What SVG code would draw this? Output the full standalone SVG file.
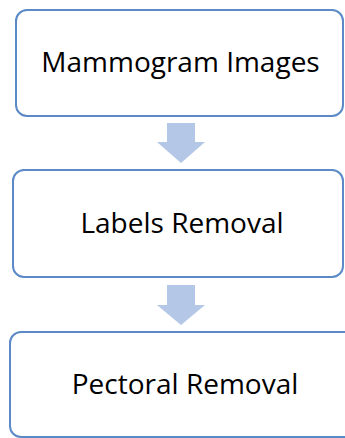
<svg xmlns="http://www.w3.org/2000/svg" width="345" height="438" viewBox="0 0 345 438">
  <style>
    .box { fill: #ffffff; stroke: #5b8ac6; stroke-width: 2; }
    .label { font-family: "Open Sans", "Liberation Sans", sans-serif; font-size: 28px; fill: #000000; text-anchor: middle; }
    .flow { fill: #b4c7e7; stroke: none; }
  </style>
  <rect width="345" height="438" fill="#ffffff"/>

  <g id="node-mammogram-images">
    <rect class="box" x="16" y="10" width="327" height="106" rx="11"/>
    <text class="label" x="180.5" y="72">Mammogram Images</text>
  </g>

  <g id="node-labels-removal">
    <rect class="box" x="13" y="170" width="330" height="107" rx="11"/>
    <text class="label" x="182" y="233">Labels Removal</text>
  </g>

  <g id="node-pectoral-removal">
    <rect class="box" x="10" y="332" width="345" height="105" rx="11"/>
    <text class="label" x="185" y="394">Pectoral Removal</text>
  </g>

  <g id="connectors">
    <polygon class="flow" points="167,123 195,123 195,142 205,142 181,163 157,142 167,142"/>
    <polygon class="flow" points="167,285 195,285 195,305 205,305 181,325 157,305 167,305"/>
  </g>
</svg>
